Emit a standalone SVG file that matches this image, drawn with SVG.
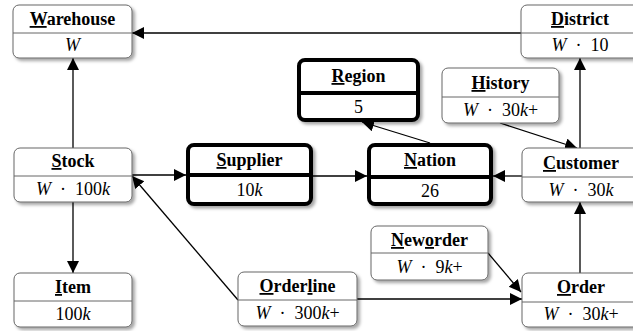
<svg xmlns="http://www.w3.org/2000/svg" width="633" height="331" viewBox="0 0 633 331">
  <style>
    .box { fill: #fff; stroke: #666; stroke-width: 1; }
    .bold { fill: #fff; stroke: #000; stroke-width: 4; }
    .div { stroke: #666; stroke-width: 1; }
    .divb { stroke: #000; stroke-width: 4; }
    text { font-family: 'Liberation Serif', 'DejaVu Serif', 'Times New Roman', serif; font-size: 18px; text-anchor: middle; fill: #000; }
    .title { font-weight: bold; }
    .i { font-style: italic; }
    .u { text-decoration: underline; }
    .edge { stroke: #000; stroke-width: 1.3; fill: none; marker-end: url(#arrow); }
  </style>
  <defs>
    <filter id="shadow" x="-10%" y="-10%" width="130%" height="140%">
      <feDropShadow dx="2.5" dy="2.5" stdDeviation="1.5" flood-color="#000" flood-opacity="0.35"/>
    </filter>
    <marker id="arrow" markerUnits="userSpaceOnUse" markerWidth="13" markerHeight="13" refX="12" refY="6" orient="auto">
      <path d="M0,0 L12,6 L0,12 z" fill="#000"/>
    </marker>
  </defs>

  <rect width="633" height="331" fill="#fff"/>

  <!-- connectors -->
  <g id="connectors">
    <path class="edge" d="M521,33 L132,33"/>
    <path class="edge" d="M73,148 L73,58"/>
    <path class="edge" d="M73,202 L73,273"/>
    <path class="edge" d="M132,175 L186,175"/>
    <path class="edge" d="M313,176 L367,176"/>
    <path class="edge" d="M522,176 L493,176"/>
    <path class="edge" d="M430,143 L362,122"/>
    <path class="edge" d="M500,123 L577,148"/>
    <path class="edge" d="M580,148 L580,58"/>
    <path class="edge" d="M580,273 L580,202"/>
    <path class="edge" d="M357,299 L522,299"/>
    <path class="edge" d="M488,253 L521,292"/>
    <path class="edge" d="M238,300 L132,176"/>
  </g>

  <!-- entity nodes -->
  <g id="warehouse">
    <rect class="box" x="13" y="5" width="119" height="53" rx="6" filter="url(#shadow)"/>
    <line class="div" x1="13" y1="33" x2="132" y2="33"/>
    <text class="title" x="72.5" y="25"><tspan class="u">W</tspan>arehouse</text>
    <text x="72.5" y="51"><tspan class="i">W</tspan></text>
  </g>

  <g id="district">
    <rect class="box" x="521" y="5" width="118" height="53" rx="6" filter="url(#shadow)"/>
    <line class="div" x1="521" y1="33" x2="639" y2="33"/>
    <text class="title" x="580" y="25"><tspan class="u">D</tspan>istrict</text>
    <text x="580" y="51" xml:space="preserve"><tspan class="i">W</tspan>  ·  10</text>
  </g>

  <g id="history">
    <rect class="box" x="442" y="68" width="117" height="55" rx="6" filter="url(#shadow)"/>
    <line class="div" x1="442" y1="97" x2="559" y2="97"/>
    <text class="title" x="500.5" y="89"><tspan class="u">H</tspan>istory</text>
    <text x="500.5" y="116" xml:space="preserve"><tspan class="i">W</tspan>  ·  30<tspan class="i">k</tspan>+</text>
  </g>

  <g id="region">
    <rect class="bold" x="299" y="60" width="119" height="60" rx="6" filter="url(#shadow)"/>
    <line class="divb" x1="299" y1="93" x2="418" y2="93"/>
    <text class="title" x="358.5" y="82"><tspan class="u">R</tspan>egion</text>
    <text x="358.5" y="113">5</text>
  </g>

  <g id="stock">
    <rect class="box" x="14" y="148" width="118" height="54" rx="6" filter="url(#shadow)"/>
    <line class="div" x1="14" y1="176" x2="132" y2="176"/>
    <text class="title" x="73" y="167"><tspan class="u">S</tspan>tock</text>
    <text x="73" y="195" xml:space="preserve"><tspan class="i">W</tspan>  ·  100<tspan class="i">k</tspan></text>
  </g>

  <g id="supplier">
    <rect class="bold" x="188" y="145" width="123" height="59" rx="6" filter="url(#shadow)"/>
    <line class="divb" x1="188" y1="175" x2="311" y2="175"/>
    <text class="title" x="249.5" y="166"><tspan class="u">S</tspan>upplier</text>
    <text x="249.5" y="196">10<tspan class="i">k</tspan></text>
  </g>

  <g id="nation">
    <rect class="bold" x="369" y="145" width="122" height="59" rx="6" filter="url(#shadow)"/>
    <line class="divb" x1="369" y1="177" x2="491" y2="177"/>
    <text class="title" x="430" y="166"><tspan class="u">N</tspan>ation</text>
    <text x="430" y="197">26</text>
  </g>

  <g id="customer">
    <rect class="box" x="522" y="148" width="118" height="54" rx="6" filter="url(#shadow)"/>
    <line class="div" x1="522" y1="177" x2="640" y2="177"/>
    <text class="title" x="581" y="169"><tspan class="u">C</tspan>ustomer</text>
    <text x="581" y="196" xml:space="preserve"><tspan class="i">W</tspan>  ·  30<tspan class="i">k</tspan></text>
  </g>

  <g id="neworder">
    <rect class="box" x="371" y="226" width="117" height="54" rx="6" filter="url(#shadow)"/>
    <line class="div" x1="371" y1="253" x2="488" y2="253"/>
    <text class="title" x="429.5" y="246"><tspan class="u">N</tspan>ew<tspan class="u">o</tspan>rder</text>
    <text x="429.5" y="273" xml:space="preserve"><tspan class="i">W</tspan>  ·  9<tspan class="i">k</tspan>+</text>
  </g>

  <g id="item">
    <rect class="box" x="14" y="273" width="118" height="54" rx="6" filter="url(#shadow)"/>
    <line class="div" x1="14" y1="301" x2="132" y2="301"/>
    <text class="title" x="73" y="293"><tspan class="u">I</tspan>tem</text>
    <text x="73" y="320">100<tspan class="i">k</tspan></text>
  </g>

  <g id="orderline">
    <rect class="box" x="238" y="272" width="119" height="54" rx="6" filter="url(#shadow)"/>
    <line class="div" x1="238" y1="300" x2="357" y2="300"/>
    <text class="title" x="297.5" y="292"><tspan class="u">O</tspan>rder<tspan class="u">l</tspan>ine</text>
    <text x="297.5" y="319" xml:space="preserve"><tspan class="i">W</tspan>  ·  300<tspan class="i">k</tspan>+</text>
  </g>

  <g id="order">
    <rect class="box" x="522" y="273" width="118" height="54" rx="6" filter="url(#shadow)"/>
    <line class="div" x1="522" y1="302" x2="640" y2="302"/>
    <text class="title" x="581" y="293"><tspan class="u">O</tspan>rder</text>
    <text x="581" y="320" xml:space="preserve"><tspan class="i">W</tspan>  ·  30<tspan class="i">k</tspan>+</text>
  </g>
</svg>
